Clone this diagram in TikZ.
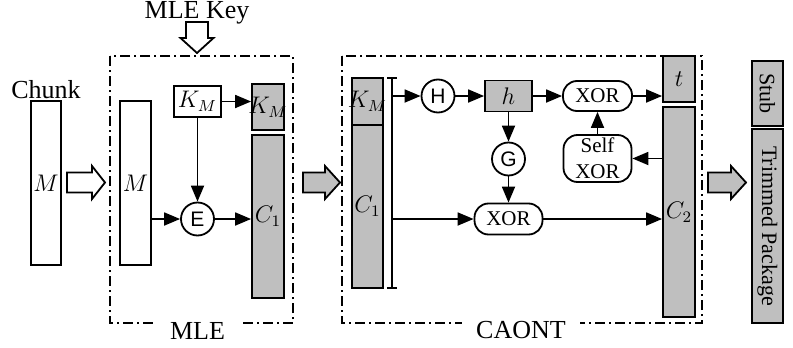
\documentclass[tikz,border=0pt]{standalone}
\usepackage{fontspec}
\setmainfont{Liberation Serif}
\setsansfont{Liberation Sans}
\usetikzlibrary{arrows.meta}

\begin{document}
\begin{tikzpicture}[
    x=0.5pt, y=-0.5pt,
    blk/.style={
        rectangle,
        draw=black,
        line width=0.9pt,
        fill=white,
        inner sep=0pt,
        font=\fontsize{11.5}{13}\selectfont
    },
    shaded/.style={
        blk,
        fill=black!25
    },
    op/.style={
        circle,
        draw=black,
        line width=0.9pt,
        minimum size=16.5pt,
        inner sep=0pt,
        font=\sffamily\fontsize{10.5}{12}\selectfont
    },
    xorbox/.style={
        rectangle,
        draw=black,
        line width=0.9pt,
        fill=white,
        rounded corners=7pt,
        inner sep=0pt,
        align=center,
        font=\fontsize{10.5}{13}\selectfont
    },
    frame/.style={
        draw=black,
        line width=0.75pt,
        dash pattern=on 5pt off 2pt on 1pt off 2pt
    },
    title/.style={
        font=\fontsize{13}{15}\selectfont,
        inner sep=3pt
    },
    arrow/.style={
        -{Triangle[length=8pt,width=6.5pt]},
        line width=0.9pt
    },
    bigarrow/.style={
        draw=black,
        line width=0.9pt,
        line join=miter
    }
]
\useasboundingbox (0,0) rectangle (793,348);

% Frames
\draw[frame] (110,56) rectangle (293,323);
\draw[frame] (342,56) rectangle (702,323);
\node[title, fill=white, inner xsep=7pt] (mlelbl) at (197.5,330.5) {MLE};
\node[title, fill=white, inner xsep=7pt] (caontlbl) at (521,330.5) {CAONT};

% Input chunk
\node[title] (chunklbl) at (46,90) {Chunk};
\node[blk, minimum width=15pt, minimum height=82pt] (chunk) at (46,183) {$M$};

% MLE part
\node[title] (keylbl) at (197,12.5) {MLE Key};
\node[blk, minimum width=15.5pt, minimum height=82pt] (m) at (135.5,183) {$M$};
\node[blk, minimum width=23.5pt, minimum height=15.5pt] (km) at (197.5,101.5) {$K_M$};
\node[shaded, minimum width=16pt, minimum height=23pt] (kmenc) at (268,107) {\makebox[0pt]{$K_M$}};
\node[shaded, minimum width=16pt, minimum height=81.5pt] (cenc) at (268,216.5) {$C_1$};
\node[op] (enc) at (197.5,219) {E};

\draw[arrow] (km.east) -- (km.east -| kmenc.west);
\draw[arrow] (km) -- (enc);
\draw[arrow] (enc -| m.east) -- (enc);
\draw[arrow] (enc) -- (enc -| cenc.west);

% CAONT part
\node[shaded, minimum width=15.5pt, minimum height=23.5pt] (kmc) at (367.5,101.5) {\makebox[0pt]{$K_M$}};
\node[shaded, minimum width=15.5pt, minimum height=81.5pt] (cc) at (367.5,206.5) {$C_1$};
\coordinate (btop) at (392,78);
\coordinate (bbot) at (392,288);
\draw[line width=0.9pt] ([xshift=-2.5pt]btop) -- ([xshift=2.5pt]btop)
    (btop) -- (bbot)
    ([xshift=-2.5pt]bbot) -- ([xshift=2.5pt]bbot);

\node[op] (hash) at (438,96) {H};
\node[shaded, minimum width=23.5pt, minimum height=15.5pt] (h) at (508.5,96) {$h$};
\node[op] (gen) at (508.5,159) {G};
\node[xorbox, minimum width=34pt, minimum height=15.5pt] (xor1) at (508.5,219) {XOR};
\node[xorbox, minimum width=34.5pt, minimum height=15pt] (xor2) at (597.5,96) {XOR};
\node[xorbox, minimum width=34pt, minimum height=23.5pt] (self) at (597.5,158.5) {Self\\XOR};
\node[shaded, minimum width=16pt, minimum height=23pt] (tag) at (679,79) {$t$};
\node[shaded, minimum width=16pt, minimum height=105pt] (c2) at (679,212) {$C_2$};

\draw[arrow] (hash -| btop) -- (hash);
\draw[arrow] (hash) -- (h);
\draw[arrow] (h) -- (gen);
\draw[arrow] (gen) -- (xor1);
\draw[arrow] (xor1 -| btop) -- (xor1);
\draw[arrow] (h) -- (xor2);
\draw[arrow] (xor2) -- (xor2 -| tag.west);
\draw[arrow] (xor1) -- (xor1 -| c2.west);
\draw[arrow] (self -| c2.west) -- (self);
\draw[arrow] (self) -- (xor2);

% Output package
\node[shaded, rotate=-90, minimum width=32.5pt, minimum height=15.5pt, font=\fontsize{11}{12}\selectfont] (stub) at (767.5,93.5) {Stub};
\node[shaded, rotate=-90, minimum width=97pt, minimum height=15.5pt, font=\fontsize{11}{12}\selectfont] (pkg) at (767.5,226) {Trimmed Package};

% Block arrows
\draw[bigarrow, fill=white] (186,22) -- (208,22) -- (208,38) -- (213.5,38) -- (197,53) -- (180.5,38) -- (186,38) -- cycle;
\draw[bigarrow, fill=white] (67,172.5) -- (92,172.5) -- (92,166) -- (105,182.5) -- (92,199) -- (92,192.5) -- (67,192.5) -- cycle;
\draw[bigarrow, fill=black!25] (303,172.5) -- (325,172.5) -- (325,166) -- (340,182.5) -- (325,199) -- (325,192.5) -- (303,192.5) -- cycle;
\draw[bigarrow, fill=black!25] (708,172.5) -- (731,172.5) -- (731,166) -- (746,182.5) -- (731,199) -- (731,192.5) -- (708,192.5) -- cycle;

\end{tikzpicture}
\end{document}
